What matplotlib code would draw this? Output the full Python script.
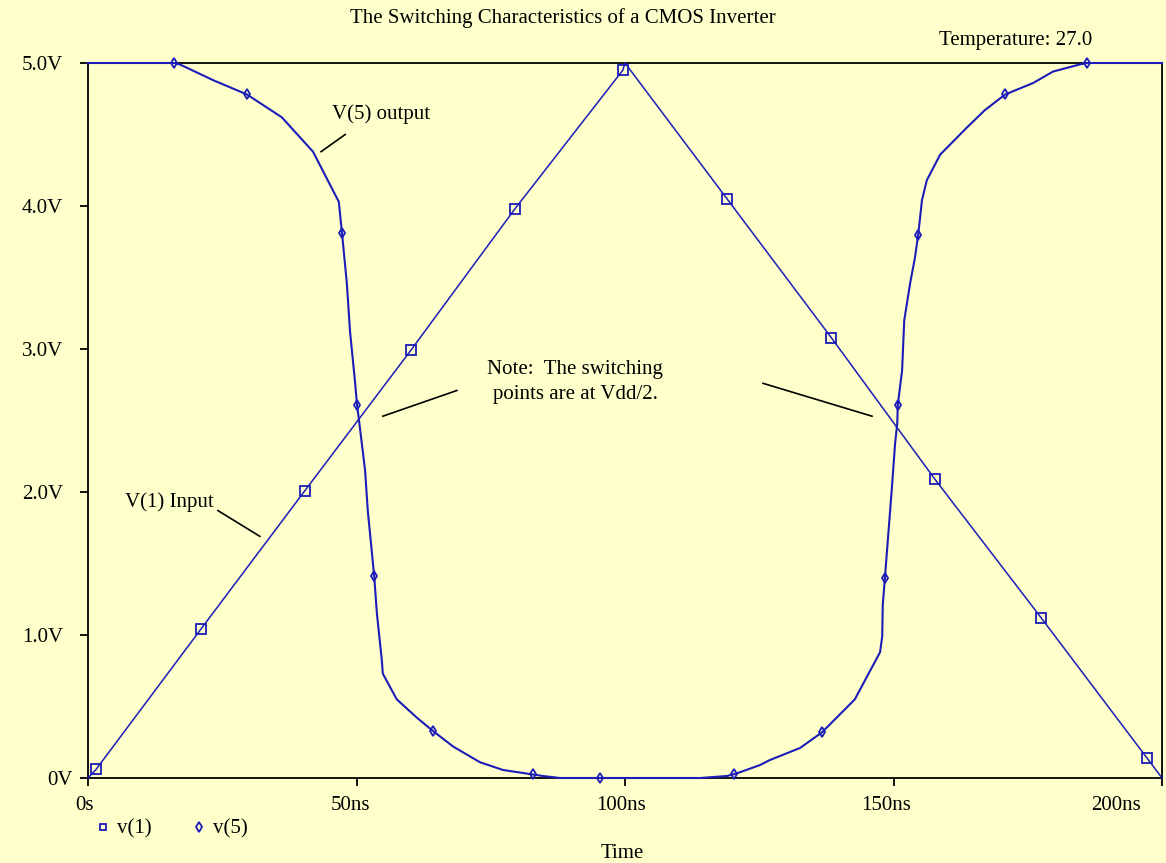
import matplotlib
matplotlib.use("Agg")
import matplotlib.pyplot as plt
from matplotlib.lines import Line2D
from matplotlib.transforms import ScaledTranslation

# ---- data ----
v1_time = [0, 1.5, 21.0, 40.4, 60.1, 79.5, 99.6, 100, 119.0, 138.4, 157.7, 177.5, 197.2, 200]
v1_volt = [0, 0.06, 1.04, 2.01, 2.99, 3.98, 4.95, 5.0, 4.05, 3.08, 2.09, 1.12, 0.14, 0]
v1_marks = [1, 2, 3, 4, 5, 6, 8, 9, 10, 11, 12]

v5_time = [0, 16.0, 17.1, 23.3, 29.6, 36.1, 41.9, 45.6, 46.7, 47.3, 48.2, 48.8, 49.7, 50.1,
           50.5, 51.6, 52.1, 53.3, 53.8, 54.7, 54.9, 57.5, 61.3, 64.2, 68.0, 73.0, 77.3,
           81.0, 82.8, 84.7, 87.9, 95.3, 114.0, 119.0, 120.3, 121.4, 125.1, 127.0, 132.6,
           136.7, 142.8, 147.5, 147.9, 148.0, 148.4, 149.0, 149.7, 150.3, 150.7, 150.8,
           151.6, 152.0, 153.1, 154.0, 154.6, 155.3, 156.2, 158.7, 163.7, 167.0, 170.8,
           176.0, 179.7, 184.7, 186.0, 187.2, 200]
v5_volt = [5.0, 5.0, 4.99, 4.88, 4.78, 4.62, 4.38, 4.11, 4.03, 3.81, 3.46, 3.12, 2.78, 2.61,
           2.49, 2.15, 1.87, 1.41, 1.15, 0.83, 0.73, 0.55, 0.42, 0.33, 0.22, 0.11, 0.056,
           0.035, 0.025, 0.014, 0.0, 0.0, 0.0, 0.014, 0.027, 0.04, 0.09, 0.126, 0.21,
           0.32, 0.55, 0.88, 0.99, 1.21, 1.40, 1.69, 2.03, 2.34, 2.48, 2.61,
           2.85, 3.20, 3.46, 3.64, 3.80, 4.04, 4.18, 4.36, 4.55, 4.67, 4.78,
           4.86, 4.94, 4.99, 5.0, 5.0, 5.0]
v5_marks = [1, 4, 9, 13, 17, 23, 28, 31, 34, 39, 44, 49, 54, 60, 64]

x_ticks = [0, 50, 100, 150, 200]
x_labels = ["0s", "50ns", "100ns", "150ns", "200ns"]
y_ticks = [0, 1, 2, 3, 4, 5]
y_labels = ["0V", "1.0V", "2.0V", "3.0V", "4.0V", "5.0V"]

title = "The Switching Characteristics of a CMOS Inverter"
temp_text = "Temperature: 27.0"

BG = "#FFFFCC"
BLUE = "#1c1cb8"
FONT = ["Liberation Serif", "DejaVu Serif"]
FS = 15

plt.rcParams["font.family"] = FONT

fig = plt.figure(figsize=(11.66, 8.63), dpi=100, facecolor=BG)
ax = fig.add_axes([88 / 1166, 1 - 778 / 863, (1162 - 88) / 1166, (778 - 63) / 863])
ax.set_facecolor(BG)

ax.plot(v1_time, v1_volt, color=BLUE, lw=1.1, marker="s", markersize=6.5,
        fillstyle="none", markeredgewidth=1.3, markevery=v1_marks, clip_on=False, zorder=3)
ax.plot(v5_time, v5_volt, color=BLUE, lw=1.5, marker="d", markersize=5.5,
        fillstyle="none", markeredgewidth=1.3, markevery=v5_marks, clip_on=False, zorder=3)

ax.set_xlim(0, 200)
ax.set_ylim(0, 5)
ax.set_xticks(x_ticks)
ax.set_xticklabels(x_labels)
ax.set_yticks(y_ticks)
ax.set_yticklabels(y_labels)
for s in ax.spines.values():
    s.set_color("black")
    s.set_linewidth(1.3)
ax.tick_params(axis="both", direction="out", length=6, width=1.3, colors="black",
               labelsize=FS)
ax.tick_params(axis="y", pad=12)
ax.tick_params(axis="x", pad=7)

# individual label offsets
dpi_t = fig.dpi_scale_trans
yl = ax.get_yticklabels()[0]
yl.set_transform(yl.get_transform() + ScaledTranslation(0.10, 0, dpi_t))
xl = ax.get_xticklabels()
xl[0].set_transform(xl[0].get_transform() + ScaledTranslation(-0.04, 0, dpi_t))
xl[1].set_transform(xl[1].get_transform() + ScaledTranslation(-0.06, 0, dpi_t))
xl[2].set_transform(xl[2].get_transform() + ScaledTranslation(-0.04, 0, dpi_t))
xl[3].set_transform(xl[3].get_transform() + ScaledTranslation(-0.07, 0, dpi_t))
xl[4].set_transform(xl[4].get_transform() + ScaledTranslation(-0.46, 0, dpi_t))

ax.set_xlabel("Time", fontsize=FS)
ax.xaxis.set_label_coords((622 - 88) / (1162 - 88), -(853 - 778) / (778 - 63))
ax.xaxis.label.set_va("center")

fig.text(563 / 1166, 1 - 18 / 863, title, ha="center", va="center", fontsize=FS)
fig.text(1092 / 1166, 1 - 40 / 863, temp_text, ha="right", va="center", fontsize=FS)

# annotations
ax.text(45.4, 4.64, "V(5) output", ha="left", va="center", fontsize=FS)
ax.plot([43.4, 47.9], [4.38, 4.50], color="black", lw=1.2)
ax.text(6.8, 1.93, "V(1) Input", ha="left", va="center", fontsize=FS)
ax.plot([24.2, 32.0], [1.87, 1.69], color="black", lw=1.2)
ax.text(90.7, 2.77, "Note:  The switching\npoints are at Vdd/2.", ha="center",
        va="center", fontsize=FS, linespacing=1.45)
ax.plot([54.9, 68.7], [2.53, 2.71], color="black", lw=1.2)
ax.plot([125.7, 146.0], [2.76, 2.53], color="black", lw=1.2)

# legend
handles = [
    Line2D([], [], color=BLUE, linestyle="none", marker="s", markersize=5,
           fillstyle="none", markeredgewidth=1.3, label="v(1)"),
    Line2D([], [], color=BLUE, linestyle="none", marker="d", markersize=5,
           fillstyle="none", markeredgewidth=1.3, label="v(5)"),
]
fig.legend(handles=handles, loc="center left", bbox_to_anchor=(95 / 1166, 1 - 829 / 863),
           ncol=2, frameon=False, fontsize=FS, handlelength=0.8, handletextpad=0.25,
           columnspacing=1.9, borderaxespad=0, borderpad=0)

fig.savefig("out.png", dpi=100, facecolor=BG)
